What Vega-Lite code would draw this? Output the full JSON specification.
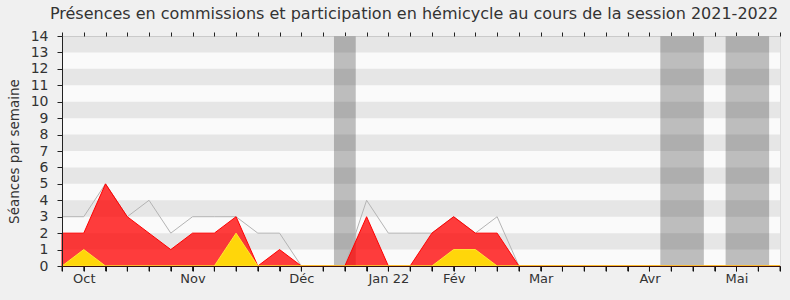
{
  "$schema": "https://vega.github.io/schema/vega-lite/v6.json",
  "width": 718,
  "height": 230,
  "autosize": {"type": "none"},
  "padding": {"left": 62, "top": 36, "right": 10, "bottom": 34},
  "background": "#f0f0f0",
  "config": {
    "view": {"fill": "#fafafa", "stroke": "#dcdcdc"},
    "font": "DejaVu Sans"
  },
  "title": {
    "text": "Présences en commissions et participation en hémicycle au cours de la session 2021-2022",
    "fontSize": 16,
    "fontWeight": "normal",
    "color": "#333333",
    "offset": 7,
    "anchor": "middle",
    "dx": -7
  },
  "datasets": {
    "semaines": [
      {"w": 0, "commission": 2, "total": 3, "hemicycle": 0},
      {"w": 1, "commission": 2, "total": 3, "hemicycle": 1},
      {"w": 2, "commission": 5, "total": 5, "hemicycle": 0},
      {"w": 3, "commission": 3, "total": 3, "hemicycle": 0},
      {"w": 4, "commission": 2, "total": 4, "hemicycle": 0},
      {"w": 5, "commission": 1, "total": 2, "hemicycle": 0},
      {"w": 6, "commission": 2, "total": 3, "hemicycle": 0},
      {"w": 7, "commission": 2, "total": 3, "hemicycle": 0},
      {"w": 8, "commission": 3, "total": 3, "hemicycle": 2},
      {"w": 9, "commission": 0, "total": 2, "hemicycle": 0},
      {"w": 10, "commission": 1, "total": 2, "hemicycle": 0},
      {"w": 11, "commission": 0, "total": 0, "hemicycle": 0},
      {"w": 12, "commission": 0, "total": 0, "hemicycle": 0},
      {"w": 13, "commission": 0, "total": 0, "hemicycle": 0},
      {"w": 14, "commission": 3, "total": 4, "hemicycle": 0},
      {"w": 15, "commission": 0, "total": 2, "hemicycle": 0},
      {"w": 16, "commission": 0, "total": 2, "hemicycle": 0},
      {"w": 17, "commission": 2, "total": 2, "hemicycle": 0},
      {"w": 18, "commission": 3, "total": 3, "hemicycle": 1},
      {"w": 19, "commission": 2, "total": 2, "hemicycle": 1},
      {"w": 20, "commission": 2, "total": 3, "hemicycle": 0},
      {"w": 21, "commission": 0, "total": 0, "hemicycle": 0},
      {"w": 22, "commission": 0, "total": 0, "hemicycle": 0},
      {"w": 23, "commission": 0, "total": 0, "hemicycle": 0},
      {"w": 24, "commission": 0, "total": 0, "hemicycle": 0},
      {"w": 25, "commission": 0, "total": 0, "hemicycle": 0},
      {"w": 26, "commission": 0, "total": 0, "hemicycle": 0},
      {"w": 27, "commission": 0, "total": 0, "hemicycle": 0},
      {"w": 28, "commission": 0, "total": 0, "hemicycle": 0},
      {"w": 29, "commission": 0, "total": 0, "hemicycle": 0},
      {"w": 30, "commission": 0, "total": 0, "hemicycle": 0},
      {"w": 31, "commission": 0, "total": 0, "hemicycle": 0},
      {"w": 32, "commission": 0, "total": 0, "hemicycle": 0},
      {"w": 33, "commission": 0, "total": 0, "hemicycle": 0}
    ],
    "vacances": [
      {"debut": 12.5, "fin": 13.5},
      {"debut": 27.5, "fin": 29.5},
      {"debut": 30.5, "fin": 32.5}
    ],
    "bandes": [
      {"bas": 1, "haut": 2},
      {"bas": 3, "haut": 4},
      {"bas": 5, "haut": 6},
      {"bas": 7, "haut": 8},
      {"bas": 9, "haut": 10},
      {"bas": 11, "haut": 12},
      {"bas": 13, "haut": 14}
    ]
  },
  "resolve": {"axis": {"x": "independent"}},
  "layer": [
    {
      "data": {"name": "vacances"},
      "mark": {"type": "rect", "color": "#bdbdbd"},
      "encoding": {
        "x": {"field": "debut", "type": "quantitative", "scale": {"domain": [0, 33], "nice": false, "zero": false}, "axis": null},
        "x2": {"field": "fin"},
        "y": {"datum": 0, "type": "quantitative", "scale": {"domain": [0, 14], "nice": false},
          "axis": {"values": [0,1,2,3,4,5,6,7,8,9,10,11,12,13,14], "grid": false, "tickSize": 5, "tickColor": "#222222", "domainColor": "#222222", "labelFontSize": 14, "labelColor": "#333333", "labelPadding": 9, "labelOverlap": false, "labelFlush": false, "title": "Séances par semaine", "titleFontSize": 13.5, "titleFontWeight": "normal", "titleColor": "#333333", "titlePadding": 9, "zindex": 2}},
        "y2": {"datum": 14}
      }
    },
    {
      "data": {"name": "bandes"},
      "mark": {"type": "rect", "color": "#000000", "opacity": 0.08},
      "encoding": {
        "y": {"field": "bas", "type": "quantitative",
          "axis": {"values": [0,1,2,3,4,5,6,7,8,9,10,11,12,13,14], "grid": false, "tickSize": 5, "tickColor": "#222222", "domainColor": "#222222", "labelFontSize": 14, "labelColor": "#333333", "labelPadding": 9, "labelOverlap": false, "labelFlush": false, "title": "Séances par semaine", "titleFontSize": 13.5, "titleFontWeight": "normal", "titleColor": "#333333", "titlePadding": 9, "zindex": 2}},
        "y2": {"field": "haut"}
      }
    },
    {
      "data": {"name": "semaines"},
      "mark": {"type": "line", "color": "#b4b4b4", "strokeWidth": 1},
      "encoding": {
        "x": {
          "field": "w",
          "type": "quantitative",
          "axis": {
            "orient": "bottom",
            "values": [0,1,2,3,4,5,6,7,8,9,10,11,12,13,14,15,16,17,18,19,20,21,22,23,24,25,26,27,28,29,30,31,32,33],
            "labelExpr": "datum.value == 1 ? 'Oct' : datum.value == 6 ? 'Nov' : datum.value == 11 ? 'Déc' : datum.value == 15 ? 'Jan 22' : datum.value == 18 ? 'Fév' : datum.value == 22 ? 'Mar' : datum.value == 27 ? 'Avr' : datum.value == 31 ? 'Mai' : ''",
            "grid": false,
            "ticks": true,
            "tickSize": 5,
            "tickColor": "#111111",
            "domainColor": "#3a1010",
            "labelFontSize": 13,
            "labelColor": "#333333",
            "labelFlush": false,
            "labelOverlap": false,
            "labelBound": false,
            "labelPadding": 1,
            "title": null,
            "zindex": 2
          }
        },
        "y": {"field": "total", "type": "quantitative",
          "axis": {"values": [0,1,2,3,4,5,6,7,8,9,10,11,12,13,14], "grid": false, "tickSize": 5, "tickColor": "#222222", "domainColor": "#222222", "labelFontSize": 14, "labelColor": "#333333", "labelPadding": 9, "labelOverlap": false, "labelFlush": false, "title": "Séances par semaine", "titleFontSize": 13.5, "titleFontWeight": "normal", "titleColor": "#333333", "titlePadding": 9, "zindex": 2}}
      }
    },
    {
      "data": {"name": "semaines"},
      "mark": {"type": "area", "color": "#ff0000", "fillOpacity": 0.76, "stroke": "#ff0000", "strokeWidth": 1, "strokeOpacity": 1},
      "encoding": {
        "x": {"field": "w", "type": "quantitative", "axis": null},
        "y": {"field": "commission", "type": "quantitative",
          "axis": {"values": [0,1,2,3,4,5,6,7,8,9,10,11,12,13,14], "grid": false, "tickSize": 5, "tickColor": "#222222", "domainColor": "#222222", "labelFontSize": 14, "labelColor": "#333333", "labelPadding": 9, "labelOverlap": false, "labelFlush": false, "title": "Séances par semaine", "titleFontSize": 13.5, "titleFontWeight": "normal", "titleColor": "#333333", "titlePadding": 9, "zindex": 2}}
      }
    },
    {
      "data": {"name": "semaines"},
      "mark": {"type": "area", "fill": "#ffd60a", "fillOpacity": 1, "stroke": "#ffe830", "strokeWidth": 1},
      "encoding": {
        "x": {"field": "w", "type": "quantitative", "axis": null},
        "y": {"field": "hemicycle", "type": "quantitative",
          "axis": {"values": [0,1,2,3,4,5,6,7,8,9,10,11,12,13,14], "grid": false, "tickSize": 5, "tickColor": "#222222", "domainColor": "#222222", "labelFontSize": 14, "labelColor": "#333333", "labelPadding": 9, "labelOverlap": false, "labelFlush": false, "title": "Séances par semaine", "titleFontSize": 13.5, "titleFontWeight": "normal", "titleColor": "#333333", "titlePadding": 9, "zindex": 2}}
      }
    },
    {
      "data": {"name": "semaines"},
      "mark": {"type": "rule", "color": "#222222", "strokeWidth": 1},
      "encoding": {
        "x": {"field": "w", "type": "quantitative", "axis": null},
        "y": {"datum": 0, "type": "quantitative",
          "axis": {"values": [0,1,2,3,4,5,6,7,8,9,10,11,12,13,14], "grid": false, "tickSize": 5, "tickColor": "#222222", "domainColor": "#222222", "labelFontSize": 14, "labelColor": "#333333", "labelPadding": 9, "labelOverlap": false, "labelFlush": false, "title": "Séances par semaine", "titleFontSize": 13.5, "titleFontWeight": "normal", "titleColor": "#333333", "titlePadding": 9, "zindex": 2}},
        "y2": {"datum": -0.32}
      }
    },
    {
      "data": {"name": "semaines"},
      "mark": {"type": "point", "opacity": 0},
      "encoding": {
        "x": {
          "field": "w",
          "type": "quantitative",
          "axis": {
            "orient": "top",
            "values": [0,1,2,3,4,5,6,7,8,9,10,11,12,13,14,15,16,17,18,19,20,21,22,23,24,25,26,27,28,29,30,31,32,33],
            "labels": false,
            "domain": false,
            "grid": false,
            "tickSize": 4,
            "tickColor": "#222222",
            "title": null
          }
        },
        "y": {"datum": 0, "type": "quantitative",
          "axis": {"values": [0,1,2,3,4,5,6,7,8,9,10,11,12,13,14], "grid": false, "tickSize": 5, "tickColor": "#222222", "domainColor": "#222222", "labelFontSize": 14, "labelColor": "#333333", "labelPadding": 9, "labelOverlap": false, "labelFlush": false, "title": "Séances par semaine", "titleFontSize": 13.5, "titleFontWeight": "normal", "titleColor": "#333333", "titlePadding": 9, "zindex": 2}}
      }
    }
  ]
}
